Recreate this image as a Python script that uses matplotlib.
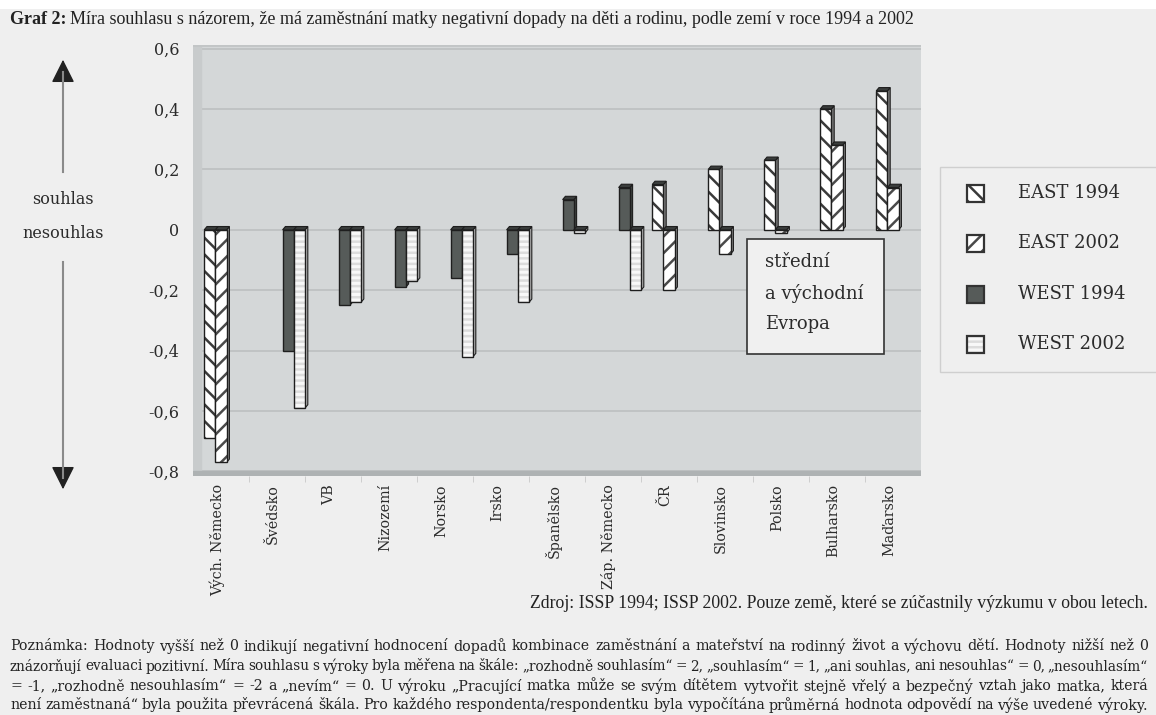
import matplotlib
matplotlib.use("Agg")
import matplotlib.pyplot as plt
from matplotlib.patches import Rectangle, Polygon, FancyArrowPatch
from matplotlib.lines import Line2D
from matplotlib.transforms import ScaledTranslation

W, H = 1156, 715
plt.rcParams["hatch.linewidth"] = 1.8

# ---- data -------------------------------------------------------------
countries = ["Vých. Německo", "Švédsko", "VB", "Nizozemí", "Norsko", "Irsko",
             "Španělsko", "Záp. Německo", "ČR", "Slovinsko", "Polsko",
             "Bulharsko", "Maďarsko"]
east_1994 = [-0.69, None, None, None, None, None, None, None,
             0.15, 0.20, 0.23, 0.40, 0.46]
east_2002 = [-0.77, None, None, None, None, None, None, None,
             -0.20, -0.08, -0.01, 0.28, 0.14]
west_1994 = [None, -0.40, -0.25, -0.19, -0.16, -0.08, 0.10, 0.14,
             None, None, None, None, None]
west_2002 = [None, -0.59, -0.24, -0.17, -0.42, -0.24, -0.01, -0.20,
             None, None, None, None, None]
series_names = ["EAST 1994", "EAST 2002", "WEST 1994", "WEST 2002"]
y_ticks = [-0.8, -0.6, -0.4, -0.2, 0.0, 0.2, 0.4, 0.6]

# ---- styles -----------------------------------------------------------
styles = [
    dict(face="white", hatch="\\\\", hcol="#3a3a3a", side="#7a7a7a"),
    dict(face="white", hatch="//", hcol="#4a4a4a", side="#8a8a8a"),
    dict(face="#565b59", hatch=None, hcol="#565b59", side="#3c403e"),
    dict(face="#f8f8f8", hatch="---", hcol="#dcdcdc", side="#b8b8b8"),
]
SERIF = ["DejaVu Serif"]
TFONT = ["Liberation Serif"]
TXT = "#2b2b2b"

fig = plt.figure(figsize=(W / 100, H / 100), dpi=100)
fig.patch.set_facecolor("#efefef")
# white strip along the very top edge
fig.add_artist(Rectangle((0, 1 - 9 / H), 1, 9 / H, transform=fig.transFigure,
                         facecolor="white", edgecolor="none", zorder=0))


def fx(x):
    return x / W


def fy(y):
    return 1 - y / H


ax = fig.add_axes([fx(193), fy(476), 728 / W, 431 / H])
ax.set_facecolor("#d4d7d8")
ax.set_xlim(-0.5, len(countries) - 0.5)
ax.set_ylim(-0.815, 0.612)
for s in ax.spines.values():
    s.set_visible(False)

# back wall grid, left wall and floor
for t in y_ticks:
    ax.axhline(t, color="#bcc0c1", lw=1.2, zorder=1)
ax.axvspan(-0.5, -0.36, color="#c8cbcc", zorder=1)
ax.axhspan(-0.815, -0.797, color="#aeb2b3", zorder=1)
ax.axhline(0.612, color="#c2c5c6", lw=2, zorder=1)

bar_w = 0.2
offsets = [-0.2, 0.0, 0.2, 0.4]
depth_x, depth_y = 0.05, 0.011
all_series = [east_1994, east_2002, west_1994, west_2002]

z = 3
for i in range(len(countries)):
    for k, vals in enumerate(all_series):
        v = vals[i]
        if v is None:
            continue
        st = styles[k]
        x = i + offsets[k]
        xl, xr = x - bar_w / 2, x + bar_w / 2
        top = max(v, 0)
        # side face
        side = Polygon([(xr, min(v, 0)), (xr + depth_x, min(v, 0) + depth_y),
                        (xr + depth_x, top + depth_y), (xr, top)],
                       closed=True, facecolor=st["side"], edgecolor="#1e1e1e",
                       lw=0.8, zorder=z)
        ax.add_patch(side)
        # top face
        cap = Polygon([(xl, top), (xl + depth_x, top + depth_y),
                       (xr + depth_x, top + depth_y), (xr, top)],
                      closed=True, facecolor="#3a3d3c", edgecolor="#1e1e1e",
                      lw=0.8, zorder=z)
        ax.add_patch(cap)
        # front face
        ax.bar(x, v, width=bar_w, color=st["face"], hatch=st["hatch"],
               edgecolor=st["hcol"], linewidth=0, zorder=z + 0.1)
        ax.bar(x, v, width=bar_w, fill=False, edgecolor="#1e1e1e",
               linewidth=1.0, zorder=z + 0.2)
        z += 1

ax.set_yticks(y_ticks)
ax.set_yticklabels([("%.1f" % t).replace(".", ",") if t != 0 else "0"
                    for t in y_ticks], family=SERIF, fontsize=11.5, color=TXT)
ax.tick_params(axis="y", length=0, pad=10)
ax.set_xticks(range(len(countries)))
ax.set_xticklabels(countries, rotation=90, family=SERIF, fontsize=10.3,
                   color=TXT, va="top")
ax.tick_params(axis="x", length=0, pad=6)
shift = ScaledTranslation(-4 / 100, 0, fig.dpi_scale_trans)
for lab in ax.get_xticklabels():
    lab.set_transform(lab.get_transform() + shift)
ax.set_xticks([i - 0.5 for i in range(1, len(countries))], minor=True)
ax.tick_params(axis="x", which="minor", length=4, color="#c8c8c8")

# region annotation box
fig.text(fx(765), fy(293), "střední\na východní\nEvropa", family=SERIF,
         fontsize=13, color=TXT, va="center", ha="left", linespacing=1.85,
         zorder=20)
fig.add_artist(Rectangle((fx(747), fy(354)), 137 / W, 115 / H,
                         transform=fig.transFigure, facecolor="#f0f0f0",
                         edgecolor="#333333", lw=1.2, zorder=19))

# legend
fig.add_artist(Rectangle((fx(940), fy(372)), 230 / W, 205 / H,
                         transform=fig.transFigure, facecolor="#efefef",
                         edgecolor="#cfcfcf", lw=1.0, zorder=5))
leg_y = [193, 243, 294, 344]
for k, name in enumerate(series_names):
    st = styles[k]
    yc = leg_y[k]
    fig.add_artist(Rectangle((fx(967), fy(yc + 9)), 17 / W, 17 / H,
                             transform=fig.transFigure, facecolor=st["face"],
                             hatch=st["hatch"], edgecolor=st["hcol"], lw=0,
                             zorder=6))
    fig.add_artist(Rectangle((fx(967), fy(yc + 9)), 17 / W, 17 / H,
                             transform=fig.transFigure, fill=False,
                             edgecolor="#333333", lw=1.6, zorder=7))
    fig.text(fx(1018), fy(yc), name, family=SERIF, fontsize=13, color=TXT,
             va="center", ha="left", zorder=7)

# agreement arrows on the left
fig.text(fx(63), fy(200), "souhlas", family=SERIF, fontsize=11.5, color=TXT,
         ha="center", va="center")
fig.text(fx(63), fy(234), "nesouhlas", family=SERIF, fontsize=11.5, color=TXT,
         ha="center", va="center")
fig.add_artist(Line2D([fx(63), fx(63)], [fy(172), fy(72)], color="#8a8a8a",
                      lw=1.5))
fig.add_artist(Line2D([fx(63), fx(63)], [fy(262), fy(478)], color="#8a8a8a",
                      lw=1.5))
for a, b in [((63, 76), (63, 57)), ((63, 474), (63, 492))]:
    fig.add_artist(FancyArrowPatch((fx(a[0]), fy(a[1])), (fx(b[0]), fy(b[1])),
                                   transform=fig.transFigure,
                                   arrowstyle="-|>,head_length=0.9,head_width=0.45",
                                   mutation_scale=16, color="#222222", lw=1))

# title
t1 = fig.text(fx(10), fy(19), "Graf 2:", family=TFONT, fontsize=13,
              weight="bold", color="#222222", va="center", ha="left")
fig.canvas.draw()
r = fig.canvas.get_renderer()
bb = t1.get_window_extent(r)
fig.text((bb.x1 + 4) / W, fy(19),
         "Míra souhlasu s názorem, že má zaměstnání matky negativní dopady na "
         "děti a rodinu, podle zemí v roce 1994 a 2002",
         family=TFONT, fontsize=13, color="#222222", va="center", ha="left")

# source
fig.text(fx(1148), fy(603),
         "Zdroj: ISSP 1994; ISSP 2002. Pouze země, které se zúčastnily "
         "výzkumu v obou letech.",
         family=TFONT, fontsize=12.8, color="#222222", va="center", ha="right")

# justified note paragraph
note_lines = [
    "Poznámka: Hodnoty vyšší než 0 indikují negativní hodnocení dopadů "
    "kombinace zaměstnání a mateřství na rodinný život a výchovu dětí. "
    "Hodnoty nižší než 0",
    "znázorňují evaluaci pozitivní. Míra souhlasu s výroky byla měřena na "
    "škále: „rozhodně souhlasím“ = 2, „souhlasím“ = 1, „ani souhlas, ani "
    "nesouhlas“ = 0, „nesouhlasím“",
    "= -1, „rozhodně nesouhlasím“ = -2 a „nevím“ = 0. U výroku „Pracující "
    "matka může se svým dítětem vytvořit stejně vřelý a bezpečný vztah jako "
    "matka, která",
    "není zaměstnaná“ byla použita převrácená škála. Pro každého "
    "respondenta/respondentku byla vypočítána průměrná hodnota odpovědí na "
    "výše uvedené výroky.",
]
note_y = [646, 666, 686, 705]
NFONT = ["DejaVu Serif"]
x_left, x_right = 10, 1148
for line, yc in zip(note_lines, note_y):
    words = line.split(" ")
    size = 10.2
    while True:
        widths = []
        for w_ in words:
            t = fig.text(0, 0, w_, family=NFONT, fontsize=size)
            widths.append(t.get_window_extent(r).width)
            t.remove()
        gap = (x_right - x_left - sum(widths)) / (len(words) - 1)
        if gap >= 3.0 or size < 7:
            break
        size -= 0.1
    xpos = x_left
    for w_, wd in zip(words, widths):
        fig.text(xpos / W, fy(yc), w_, family=NFONT, fontsize=size,
                 color="#222222", va="center", ha="left")
        xpos += wd + gap

fig.savefig("out.png", dpi=100, facecolor=fig.get_facecolor())
